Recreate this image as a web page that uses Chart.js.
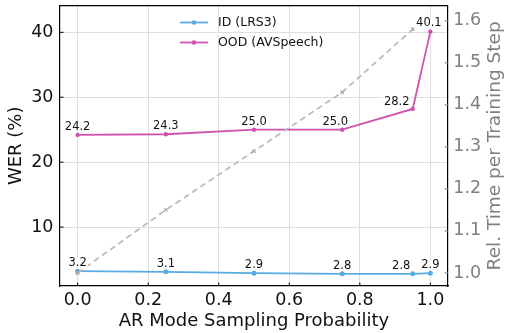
<!DOCTYPE html>
<html><head><meta charset="utf-8">
<script src="https://cdn.jsdelivr.net/npm/chart.js@4.4.0/dist/chart.umd.min.js"></script>
<style>html,body{margin:0;padding:0;background:#fff;}</style>
</head><body>
<canvas id="c" width="505" height="333"></canvas>
<script>
// ---- data ----
const samplingProb = [0, 0.25, 0.5, 0.75, 0.95, 1.0];
const werID = [3.2, 3.1, 2.9, 2.8, 2.8, 2.9];
const werOOD = [24.2, 24.3, 25.0, 25.0, 28.2, 40.1];
const relTime = [1.0, 1.15, 1.29, 1.43, 1.58, 1.6];
const xTicks = [0, 0.2, 0.4, 0.6, 0.8, 1.0];
const werTicks = [10, 20, 30, 40];
const timeTicks = [1.0, 1.1, 1.2, 1.3, 1.4, 1.5, 1.6];
const seriesNames = ['ID (LRS3)', 'OOD (AVSpeech)', 'Rel. Time'];
const xTitle = 'AR Mode Sampling Probability';
const yTitle = 'WER (%)';
const y2Title = 'Rel. Time per Training Step';

// ---- style ----
const FONT = 'DejaVu Sans';
const BLUE = '#58ace2';
const PINK = '#d052ae';
const DASH = '#bcbcbc';
const GREY = '#808080';
const GRID = '#dedede';
// pixel offsets of value annotations (per dataset, per point)
const labelOffsets = [
  [[0,-8],[0,-8],[0,-8],[0,-8],[-11.5,-8],[0,-8]],
  [[0,-8],[0,-8],[0,-8],[-7,-8],[-16,-7],[-1.5,-8.5]]
];

const pts = ys => samplingProb.map((x, i) => ({x, y: ys[i]}));
const fixTicks = arr => scale => { scale.ticks = arr.map(v => ({value: v})); };
const zeroPad = (w, h) => scale => {
  if (w !== null) scale.width = w;
  if (h !== null) scale.height = h;
  scale.paddingTop = 0; scale.paddingBottom = 0;
  scale.paddingLeft = 0; scale.paddingRight = 0;
};

const decorPlugin = {
  id: 'decor',
  afterDraw(chart) {
    const {ctx, chartArea: a, scales} = chart;
    ctx.save();
    // top spine
    ctx.strokeStyle = '#000'; ctx.lineWidth = 1.2;
    ctx.beginPath(); ctx.moveTo(a.left, a.top); ctx.lineTo(a.right, a.top); ctx.stroke();
    // inward ticks
    ctx.lineWidth = 1;
    ctx.beginPath();
    scales.x.ticks.forEach(t => { const x = scales.x.getPixelForValue(t.value); ctx.moveTo(x, a.bottom); ctx.lineTo(x, a.bottom - 3.5); });
    scales.y.ticks.forEach(t => { const y = scales.y.getPixelForValue(t.value); ctx.moveTo(a.left, y); ctx.lineTo(a.left + 3.5, y); });
    ctx.stroke();
    ctx.strokeStyle = GREY;
    ctx.beginPath();
    scales.y2.ticks.forEach(t => { const y = scales.y2.getPixelForValue(t.value); ctx.moveTo(a.right, y); ctx.lineTo(a.right - 3.5, y); });
    ctx.stroke();
    // right axis title (reads bottom-to-top)
    ctx.fillStyle = GREY;
    ctx.font = '18.5px "' + FONT + '"';
    ctx.textAlign = 'center'; ctx.textBaseline = 'middle';
    ctx.translate(495.5, (a.top + a.bottom) / 2);
    ctx.rotate(-Math.PI / 2);
    ctx.fillText(y2Title, 0, 0);
    ctx.restore();

    // value annotations
    ctx.save();
    ctx.font = '11.5px "' + FONT + '"';
    ctx.textAlign = 'center'; ctx.textBaseline = 'middle';
    [werID, werOOD].forEach((vals, di) => {
      const meta = chart.getDatasetMeta(di);
      meta.data.forEach((el, i) => {
        const txt = vals[i].toFixed(1);
        const [dx, dy] = labelOffsets[di][i];
        const cx = el.x + dx, cy = el.y + dy;
        const w = ctx.measureText(txt).width;
        ctx.fillStyle = '#fff';
        ctx.fillRect(cx - w / 2 - 1, cy - 5, w + 2, 10);
        ctx.fillStyle = '#111';
        ctx.fillText(txt, cx, cy);
      });
    });
    ctx.restore();

    // legend
    ctx.save();
    ctx.font = '12.5px "' + FONT + '"';
    ctx.textAlign = 'left'; ctx.textBaseline = 'middle';
    [0, 1].forEach((di, k) => {
      const ds = chart.data.datasets[di];
      const y = 22.5 + k * 20;
      ctx.strokeStyle = ds.borderColor; ctx.lineWidth = 1.8;
      ctx.beginPath(); ctx.moveTo(180, y); ctx.lineTo(208, y); ctx.stroke();
      ctx.fillStyle = ds.borderColor;
      ctx.beginPath(); ctx.arc(194, y, 2.3, 0, Math.PI * 2); ctx.fill();
      ctx.fillStyle = '#111';
      ctx.fillText(ds.label, 218, y + 0.5);
    });
    ctx.restore();
  }
};

new Chart(document.getElementById('c'), {
  type: 'line',
  data: {
    datasets: [
      { label: seriesNames[0], data: pts(werID), yAxisID: 'y', borderColor: BLUE, backgroundColor: BLUE,
        borderWidth: 1.8, pointRadius: 2.5, pointBorderWidth: 0, order: 2 },
      { label: seriesNames[1], data: pts(werOOD), yAxisID: 'y', borderColor: PINK, backgroundColor: PINK,
        borderWidth: 1.8, pointRadius: 2.2, pointBorderWidth: 0, order: 1 },
      { label: seriesNames[2], data: pts(relTime), yAxisID: 'y2', borderColor: DASH, backgroundColor: DASH,
        borderWidth: 1.8, borderDash: [6, 4], pointStyle: 'crossRot', pointRadius: 2.5,
        pointBorderColor: '#a8a8a8', pointBorderWidth: 1.1, order: 0 }
    ]
  },
  options: {
    responsive: false,
    devicePixelRatio: 1,
    animation: false,
    layout: { padding: { top: 5.7, left: 0, right: 0, bottom: 0 } },
    plugins: { legend: { display: false }, tooltip: { enabled: false } },
    elements: { line: { tension: 0 } },
    scales: {
      x: {
        type: 'linear', min: -0.05, max: 1.05,
        afterBuildTicks: fixTicks(xTicks),
        afterFit: zeroPad(null, 47),
        grid: { color: GRID, lineWidth: 1, drawTicks: false },
        border: { color: '#000', width: 1.2 },
        ticks: { color: '#111', font: { family: FONT, size: 17.5 }, padding: 3.5, maxRotation: 0, autoSkip: false,
                 callback: v => Number(v).toFixed(1) },
        title: { display: true, text: xTitle, color: '#111', font: { family: FONT, size: 18 },
                 padding: { top: 0, bottom: 0.6 } }
      },
      y: {
        type: 'linear', position: 'left', min: 0.92, max: 44.1,
        afterBuildTicks: fixTicks(werTicks),
        afterFit: zeroPad(60, null),
        grid: { color: GRID, lineWidth: 1, drawTicks: false },
        border: { color: '#000', width: 1.2 },
        ticks: { color: '#111', font: { family: FONT, size: 17.5 }, padding: 6.5, autoSkip: false,
                 callback: v => String(v) },
        title: { display: true, text: yTitle, color: '#111', font: { family: FONT, size: 18 },
                 padding: { top: 5.7, bottom: 0 } }
      },
      y2: {
        type: 'linear', position: 'right', min: 0.969, max: 1.636,
        afterBuildTicks: fixTicks(timeTicks),
        afterFit: zeroPad(57, null),
        grid: { display: false, drawTicks: false },
        border: { color: '#000', width: 1.2 },
        ticks: { color: GREY, font: { family: FONT, size: 17.5 }, padding: 5.3, autoSkip: false,
                 callback: v => Number(v).toFixed(1) }
      }
    }
  },
  plugins: [decorPlugin]
});
</script>
</body></html>
